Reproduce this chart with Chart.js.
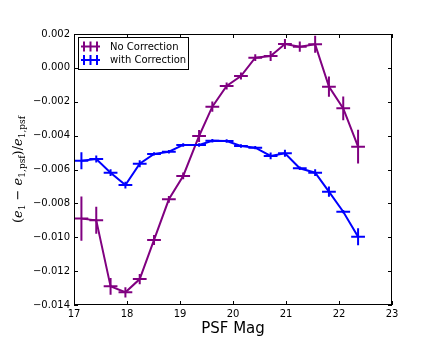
<!DOCTYPE html>
<html>
<head>
<meta charset="utf-8">
<script src="https://cdn.jsdelivr.net/npm/chart.js@4.4.1/dist/chart.umd.min.js"></script>
<style>
  body { margin: 0; background: #fff; }
  canvas { display: block; }
</style>
</head>
<body>
<canvas id="magChart" width="436" height="339"></canvas>
<script>
// PSF magnitude bins and their half widths
const mags = [17.14, 17.42, 17.69, 17.97, 18.24, 18.51, 18.79, 19.06, 19.36, 19.61,
              19.88, 20.15, 20.42, 20.71, 20.98, 21.26, 21.55, 21.81, 22.08, 22.36];
const magErr = [0.13, 0.13, 0.13, 0.13, 0.13, 0.13, 0.13, 0.13, 0.13, 0.13,
                0.13, 0.13, 0.13, 0.13, 0.13, 0.13, 0.13, 0.13, 0.13, 0.13];

const noCorr = [-0.0089, -0.0090, -0.0129, -0.01325, -0.01247, -0.01016, -0.00776, -0.00638, -0.00402, -0.00229,
                -0.00107, -0.00048, 0.0006, 0.0007, 0.00141, 0.00125, 0.00139, -0.00111, -0.00239, -0.00465];
const noCorrErr = [0.0013, 0.0008, 0.0005, 0.0003, 0.0003, 0.0003, 0.0002, 0.0002, 0.00035, 0.0003,
                   0.0002, 0.0002, 0.0002, 0.0003, 0.0003, 0.0003, 0.0005, 0.0006, 0.0007, 0.001];

const withCorr = [-0.00548, -0.00538, -0.00619, -0.00692, -0.00566, -0.00508, -0.00495, -0.00455, -0.00455, -0.0043,
                  -0.00432, -0.00461, -0.00471, -0.0052, -0.00504, -0.00593, -0.00619, -0.00731, -0.00849, -0.00997];
const withCorrErr = [0.0005, 0.0002, 0.0002, 0.0002, 0.0002, 0.0001, 0.0001, 0.0001, 0.0001, 0.0001,
                     0.0001, 0.0001, 0.0001, 0.0002, 0.0002, 0.0001, 0.0002, 0.0003, 0.0001, 0.0005];

const xTicks = [17, 18, 19, 20, 21, 22, 23];
const yTicks = [-0.014, -0.012, -0.010, -0.008, -0.006, -0.004, -0.002, 0.000, 0.002];

const PURPLE = "#800080";
const BLUE = "#0000ff";

function points(ys, yerr) {
  return mags.map((m, i) => ({ x: m, y: ys[i], xe: magErr[i], ye: yerr[i] }));
}

// draws the x/y error bars, the frame with inward ticks, legend and titles
const decorations = {
  id: "decorations",
  afterDatasetsDraw(chart) {
    const ctx = chart.ctx;
    const xs = chart.scales.x, ys = chart.scales.y;
    const area = chart.chartArea;

    ctx.save();
    ctx.beginPath();
    ctx.rect(area.left, area.top, area.right - area.left, area.bottom - area.top);
    ctx.clip();
    chart.data.datasets.forEach((ds) => {
      ctx.strokeStyle = ds.borderColor;
      ctx.lineWidth = 2;
      ds.data.forEach((p) => {
        const px = xs.getPixelForValue(p.x), py = ys.getPixelForValue(p.y);
        ctx.beginPath();
        ctx.moveTo(xs.getPixelForValue(p.x - p.xe), py);
        ctx.lineTo(xs.getPixelForValue(p.x + p.xe), py);
        ctx.moveTo(px, ys.getPixelForValue(p.y - p.ye));
        ctx.lineTo(px, ys.getPixelForValue(p.y + p.ye));
        ctx.stroke();
      });
    });
    ctx.restore();

    // frame and inward ticks
    ctx.save();
    ctx.strokeStyle = "#000";
    ctx.lineWidth = 1;
    ctx.strokeRect(area.left + 0.5, area.top + 0.5, area.right - area.left - 1, area.bottom - area.top - 1);
    ctx.beginPath();
    xTicks.forEach((v) => {
      const px = Math.round(xs.getPixelForValue(v)) + 0.5;
      ctx.moveTo(px, area.bottom); ctx.lineTo(px, area.bottom - 4);
      ctx.moveTo(px, area.top); ctx.lineTo(px, area.top + 4);
    });
    yTicks.forEach((v) => {
      const py = Math.round(ys.getPixelForValue(v)) + 0.5;
      ctx.moveTo(area.left, py); ctx.lineTo(area.left + 4, py);
      ctx.moveTo(area.right, py); ctx.lineTo(area.right - 4, py);
    });
    ctx.stroke();

    // legend
    const lx = 78, ly = 37, lw = 110, lh = 32;
    ctx.fillStyle = "#fff";
    ctx.fillRect(lx, ly, lw, lh);
    ctx.strokeStyle = "#000";
    ctx.strokeRect(lx + 0.5, ly + 0.5, lw, lh);
    ctx.font = "10px 'DejaVu Sans'";
    ctx.textBaseline = "middle";
    chart.data.datasets.forEach((ds, i) => {
      const yy = ly + 9.5 + i * 13.5;
      ctx.strokeStyle = ds.borderColor;
      ctx.lineWidth = 2;
      ctx.beginPath();
      ctx.moveTo(lx + 3, yy); ctx.lineTo(lx + 22, yy);
      [lx + 6, lx + 12.5, lx + 19].forEach((vx) => {
        ctx.moveTo(vx, yy - 5); ctx.lineTo(vx, yy + 5);
      });
      ctx.stroke();
      ctx.fillStyle = "#000";
      ctx.fillText(ds.label, lx + 32, yy + 0.5);
    });

    // x title
    ctx.font = "15px 'DejaVu Sans'";
    ctx.textAlign = "center";
    ctx.textBaseline = "alphabetic";
    ctx.fillText("PSF Mag", (area.left + area.right) / 2, 333);

    // y title, math style with subscripts
    const parts = [
      ["(", false, false], ["e", true, false], ["1", false, true], [" \u2212 ", false, false],
      ["e", true, false], ["1,psf", false, true], [")/", false, false],
      ["e", true, false], ["1,psf", false, true]
    ];
    const fontFor = (it, sub) => (it ? "italic " : "") + (sub ? "9px" : "13px") + " 'DejaVu Serif'";
    let total = 0;
    parts.forEach(([t, it, sub]) => { ctx.font = fontFor(it, sub); total += ctx.measureText(t).width; });
    ctx.translate(22, (area.top + area.bottom) / 2);
    ctx.rotate(-Math.PI / 2);
    ctx.textAlign = "left";
    let cx = -total / 2;
    parts.forEach(([t, it, sub]) => {
      ctx.font = fontFor(it, sub);
      ctx.fillText(t, cx, sub ? 3 : 0);
      cx += ctx.measureText(t).width;
    });
    ctx.restore();
  }
};

new Chart(document.getElementById("magChart"), {
  type: "scatter",
  data: {
    datasets: [
      { label: "No Correction", data: points(noCorr, noCorrErr), borderColor: PURPLE, backgroundColor: PURPLE },
      { label: "with Correction", data: points(withCorr, withCorrErr), borderColor: BLUE, backgroundColor: BLUE }
    ].map((ds) => Object.assign(ds, { showLine: true, borderWidth: 2, pointRadius: 0, pointHoverRadius: 0 }))
  },
  options: {
    responsive: false,
    animation: false,
    devicePixelRatio: 1,
    layout: { padding: { left: 0, top: 34, right: 44, bottom: 0 } },
    plugins: { legend: { display: false }, tooltip: { enabled: false } },
    scales: {
      x: {
        type: "linear",
        min: 17,
        max: 23,
        afterBuildTicks: (s) => { s.ticks = xTicks.map((v) => ({ value: v })); },
        afterFit: (s) => { s.height = 34; },
        grid: { display: false, drawTicks: false },
        border: { display: false },
        ticks: { color: "#000", padding: 3, maxRotation: 0, font: { family: "DejaVu Sans", size: 10 }, callback: (v) => String(v) }
      },
      y: {
        type: "linear",
        min: -0.014,
        max: 0.002,
        afterBuildTicks: (s) => { s.ticks = yTicks.map((v) => ({ value: v })); },
        afterFit: (s) => { s.width = 74; },
        grid: { display: false, drawTicks: false },
        border: { display: false },
        ticks: {
          color: "#000",
          padding: 4,
          font: { family: "DejaVu Sans", size: 10 },
          callback: (v) => (Math.abs(v) < 1e-9 ? "0.000" : v.toFixed(3).replace("-", "\u2212"))
        }
      }
    }
  },
  plugins: [decorations]
});
</script>
</body>
</html>
